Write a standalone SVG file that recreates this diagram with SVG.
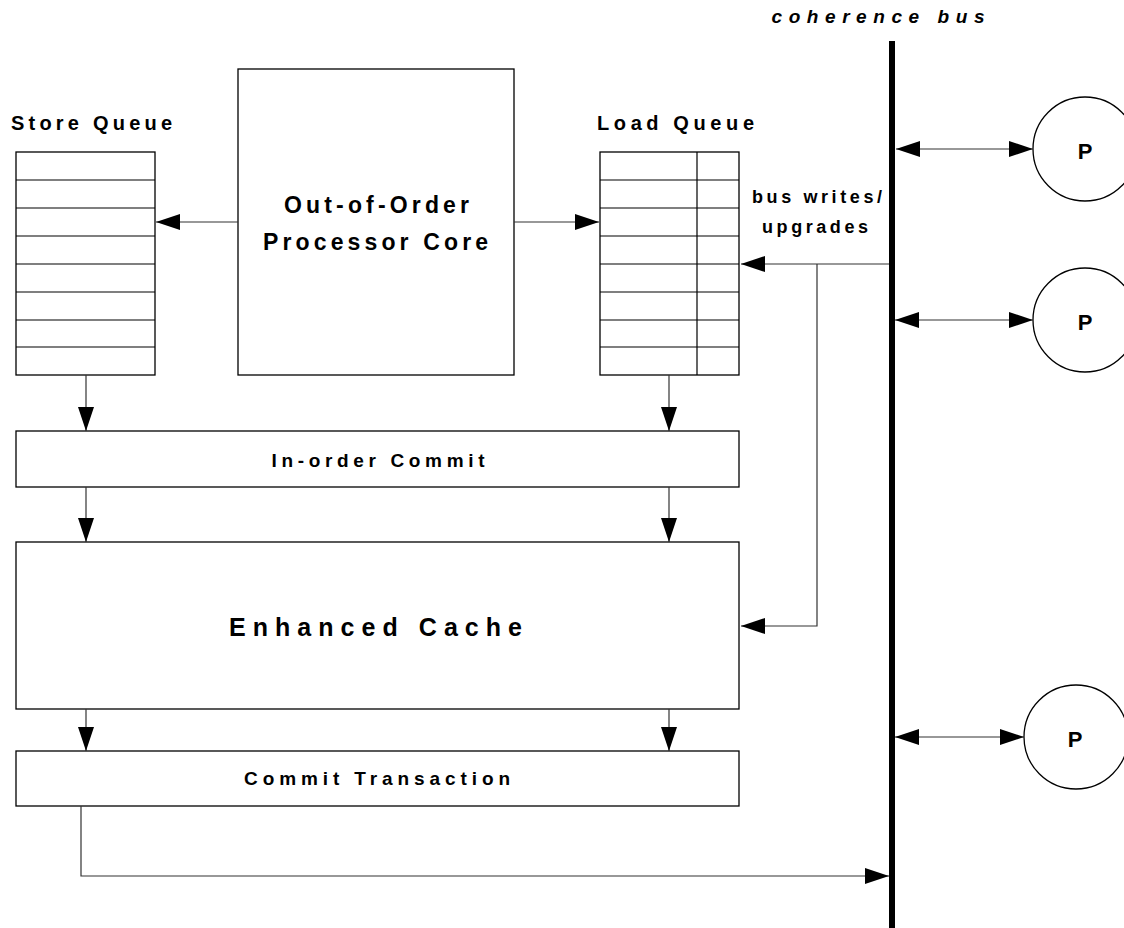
<svg xmlns="http://www.w3.org/2000/svg" width="1124" height="928" viewBox="0 0 1124 928">
<style>
.box{fill:#fff;stroke:#000;stroke-width:1.3}
.row{stroke:#000;stroke-width:1.2;fill:none}
.con{stroke:#333;stroke-width:1.2;fill:none}
.t{font-family:"Liberation Sans",Arial,sans-serif;font-weight:bold;fill:#000;text-anchor:middle}
</style>
<defs>
<marker id="ah" markerUnits="userSpaceOnUse" markerWidth="24" markerHeight="16" refX="24" refY="8" orient="auto-start-reverse" viewBox="0 0 24 16">
<path d="M0,0 L24,8 L0,16 z" fill="#000"/>
</marker>
</defs>
<rect width="1124" height="928" fill="#fff"/>

<g id="bus">
<line x1="892" y1="41" x2="892" y2="928" stroke="#000" stroke-width="6"/>
<text class="t" x="878" y="23" font-size="19" font-style="italic" textLength="213" lengthAdjust="spacing">coherence bus</text>
</g>

<g id="store-queue">
<text class="t" x="91.5" y="130" font-size="20" textLength="161" lengthAdjust="spacing">Store Queue</text>
<rect class="box" x="16" y="152" width="139" height="223"/>
<path class="row" d="M16,180H155M16,208H155M16,236H155M16,264H155M16,292H155M16,320H155M16,347H155"/>
</g>

<g id="load-queue">
<text class="t" x="675.5" y="130" font-size="20" textLength="157" lengthAdjust="spacing">Load Queue</text>
<rect class="box" x="600" y="152" width="139" height="223"/>
<path class="row" d="M600,180H739M600,208H739M600,236H739M600,264H739M600,292H739M600,320H739M600,347H739M697,152V375"/>
</g>

<g id="core">
<rect class="box" x="238" y="69" width="276" height="306"/>
<text class="t" x="376.5" y="213" font-size="23" textLength="185" lengthAdjust="spacing">Out-of-Order</text>
<text class="t" x="375.5" y="250" font-size="23" textLength="225" lengthAdjust="spacing">Processor Core</text>
</g>

<g id="in-order-commit">
<rect class="box" x="16" y="431" width="723" height="56"/>
<text class="t" x="378" y="467" font-size="19" textLength="213" lengthAdjust="spacing">In-order Commit</text>
</g>

<g id="enhanced-cache">
<rect class="box" x="16" y="542" width="723" height="167"/>
<text class="t" x="375.5" y="636" font-size="25" textLength="293" lengthAdjust="spacing">Enhanced Cache</text>
</g>

<g id="commit-transaction">
<rect class="box" x="16" y="751" width="723" height="55"/>
<text class="t" x="377" y="785" font-size="19" textLength="266" lengthAdjust="spacing">Commit Transaction</text>
</g>

<g id="p1">
<circle class="box" cx="1085" cy="149" r="52" stroke-width="1"/>
<text class="t" x="1085" y="159" font-size="22">P</text>
</g>
<g id="p2">
<circle class="box" cx="1085" cy="320" r="52" stroke-width="1"/>
<text class="t" x="1085" y="330" font-size="22">P</text>
</g>
<g id="p3">
<circle class="box" cx="1076" cy="737" r="52" stroke-width="1"/>
<text class="t" x="1075" y="747" font-size="22">P</text>
</g>

<g id="bus-label">
<text class="t" x="817" y="203" font-size="18" textLength="130" lengthAdjust="spacing">bus writes/</text>
<text class="t" x="815" y="233" font-size="18" textLength="106" lengthAdjust="spacing">upgrades</text>
</g>

<g id="connectors">
<line class="con" x1="238" y1="222" x2="156" y2="222" marker-end="url(#ah)"/>
<line class="con" x1="514" y1="222" x2="599" y2="222" marker-end="url(#ah)"/>
<line class="con" x1="86" y1="375" x2="86" y2="431" marker-end="url(#ah)"/>
<line class="con" x1="669" y1="375" x2="669" y2="431" marker-end="url(#ah)"/>
<line class="con" x1="86" y1="487" x2="86" y2="542" marker-end="url(#ah)"/>
<line class="con" x1="669" y1="487" x2="669" y2="542" marker-end="url(#ah)"/>
<line class="con" x1="86" y1="709" x2="86" y2="751" marker-end="url(#ah)"/>
<line class="con" x1="669" y1="709" x2="669" y2="751" marker-end="url(#ah)"/>
<polyline class="con" points="81,806 81,876 889,876" marker-end="url(#ah)"/>
<line class="con" x1="889" y1="264" x2="741" y2="264" marker-end="url(#ah)"/>
<polyline class="con" points="817,264 817,626 741,626" marker-end="url(#ah)"/>
<line class="con" x1="896" y1="149" x2="1033" y2="149" marker-start="url(#ah)" marker-end="url(#ah)"/>
<line class="con" x1="895" y1="320" x2="1033" y2="320" marker-start="url(#ah)" marker-end="url(#ah)"/>
<line class="con" x1="895" y1="737" x2="1024" y2="737" marker-start="url(#ah)" marker-end="url(#ah)"/>
</g>
</svg>
